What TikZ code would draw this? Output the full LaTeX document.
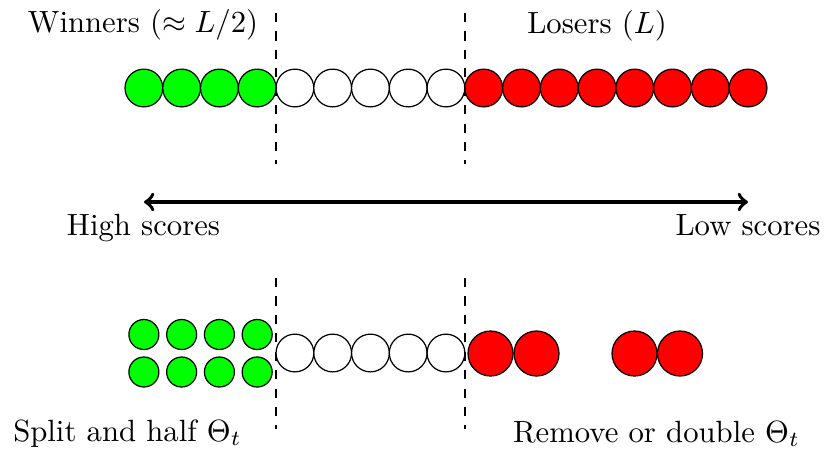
\documentclass[tikz,border=0pt]{standalone}
\usetikzlibrary{arrows}
\begin{document}
\begin{tikzpicture}[x=0.3257pt,y=-0.3257pt,
  ball/.style={circle,draw,inner sep=0pt,minimum size=12.3pt},
  gball/.style={ball,fill=green},
  wball/.style={ball,fill=white},
  rball/.style={ball,fill=red},
  sgball/.style={circle,draw,inner sep=0pt,minimum size=9.77pt,fill=green},
  brball/.style={circle,draw,inner sep=0pt,minimum size=14.66pt,fill=red},
  sep/.style={dashed,line width=0.6pt},
  lbl/.style={anchor=base,inner sep=0pt}]
\useasboundingbox (0,0) rectangle (824,450);
% top row
\foreach \i in {0,...,3}{\node[gball] (tg\i) at ({143.88+\i*37.76},88) {};}
\foreach \i in {4,...,8}{\node[wball] (tw\i) at ({143.88+\i*37.76},88) {};}
\foreach \i in {9,...,16}{\node[rball] (tr\i) at ({143.88+\i*37.76},88) {};}
% separators
\coordinate (s1t) at (276,13); \coordinate (s1b) at (276,164);
\coordinate (s2t) at (464.8,13); \coordinate (s2b) at (464.8,164);
\coordinate (s3t) at (276,278); \coordinate (s3b) at (276,429);
\coordinate (s4t) at (464.8,278); \coordinate (s4b) at (464.8,429);
\draw[sep] (s1t) -- (s1b);
\draw[sep] (s2t) -- (s2b);
\draw[sep] (s3t) -- (s3b);
\draw[sep] (s4t) -- (s4b);
% labels
\node[lbl] (win) at (143,32) {Winners ($\approx L/2$)};
\node[lbl] (los) at (597,33) {Losers ($L$)};
% arrow
\coordinate (aL) at (144,202);
\coordinate (aR) at (748,202);
\draw[very thick,<->] (aL) -- (aR);
\node[lbl] (hi) at (143.5,235) {High scores};
\node[lbl] (lo) at (748,235) {Low scores};
% bottom row
\foreach \i in {0,...,3}{
  \node[sgball] (bga\i) at ({143.88+\i*37.76},334.5) {};
  \node[sgball] (bgb\i) at ({143.88+\i*37.76},372) {};
}
\foreach \i in {4,...,8}{\node[wball] (bw\i) at ({143.88+\i*37.76},353) {};}
\node[brball] (br1) at (490.5,353.5) {};
\node[brball] (br2) at (536.5,353.5) {};
\node[brball] (br3) at (634.5,353.5) {};
\node[brball] (br4) at (680,353.5) {};
\node[lbl] (split) at (127.5,441) {Split and half $\Theta_t$};
\node[lbl] (rem) at (656.5,442) {Remove or double $\Theta_t$};
\end{tikzpicture}
\end{document}
